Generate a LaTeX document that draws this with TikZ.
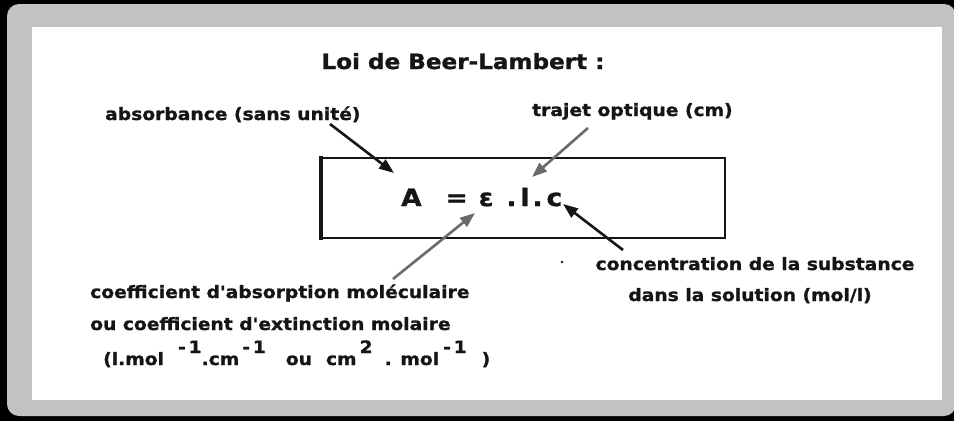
\documentclass[tikz,border=0pt]{standalone}
\usepackage{fontspec}
\usetikzlibrary{arrows.meta}
\newfontfamily\labfont[FakeStretch=1.1, BoldFeatures={FakeBold=1.2}]{DejaVu Sans}
\definecolor{framegray}{HTML}{C2C2C2}
\definecolor{inkblack}{HTML}{151515}
\definecolor{arrowgray}{HTML}{6A6A6A}
\tikzset{
  lab/.style={inner sep=0pt, text=inkblack, font=\labfont\bfseries\fontsize{17}{20}\selectfont},
  ttl/.style={inner sep=0pt, text=inkblack, font=\labfont\bfseries\fontsize{21}{24}\selectfont},
  eqn/.style={inner sep=0pt, text=inkblack, font=\labfont\bfseries\fontsize{24}{27}\selectfont},
  ptr/.style={line width=2.6pt, -{Triangle[length=15pt,width=11pt]}},
  boxline/.style={draw=inkblack, line width=2.2pt}
}
\begin{document}
\begin{tikzpicture}[x=1pt,y=-1pt]
\useasboundingbox (0,0) rectangle (954,421);
% frame
\fill[black] (0,0) rectangle (954,421);
\fill[framegray, rounded corners=12pt] (7,4) rectangle (956,416);
\fill[white] (32,27) rectangle (942,400);
% title
\node[ttl, anchor=base] (title) at (463,69) {Loi de Beer-Lambert :};
% equation box
\node[boxline, minimum width=405pt, minimum height=80pt, inner sep=0pt, anchor=north west] (eqbox) at (319,157) {};
\draw[inkblack, line width=4pt] (eqbox.north west) ++(2,-1) -- ([shift={(2,1)}]eqbox.south west);
% formula
\node[eqn, anchor=base west] (formula) at (401,206) {A\hspace{24pt}=\hspace{11pt}ε\hspace{13pt}.\hspace{4pt}l\hspace{3pt}.\hspace{4pt}c};
% labels
\node[lab, anchor=base west] (absorb) at (105,120) {absorbance (sans unité)};
\node[lab, anchor=base west] (trajet) at (532,116) {trajet optique (cm)};
\node[lab, anchor=base] (conc1) at (755,270) {concentration de la substance};
\node[lab, anchor=base] (conc2) at (750,301) {dans la solution (mol/l)};
\node[lab, anchor=base west] (coef1) at (90,298) {coefficient d'absorption moléculaire};
\node[lab, anchor=base west] (coef2) at (90,330) {ou coefficient d'extinction molaire};
\node[lab, anchor=base west] (coef3) at (103,365) {(l.mol\hspace{14pt}\raisebox{12pt}{-\,1}.cm\hspace{3pt}\raisebox{12pt}{-\,1}\hspace{20pt}ou\hspace{14pt}cm\hspace{3pt}\raisebox{12pt}{2}\hspace{12pt}. mol\hspace{4pt}\raisebox{12pt}{-\,1}\hspace{15pt})};
% stray dot
\fill[inkblack] (562,262) circle (1.3pt);
% arrow end points
\coordinate (t1) at (330,124); \coordinate (h1) at (394,173);
\coordinate (t2) at (588,128); \coordinate (h2) at (532,177);
\coordinate (t3) at (393,279); \coordinate (h3) at (475,213);
\coordinate (t4) at (623,250); \coordinate (h4) at (563,204);
\draw[ptr, inkblack] (t1) -- (h1);
\draw[ptr, arrowgray] (t2) -- (h2);
\draw[ptr, arrowgray] (t3) -- (h3);
\draw[ptr, inkblack] (t4) -- (h4);
\end{tikzpicture}
\end{document}
